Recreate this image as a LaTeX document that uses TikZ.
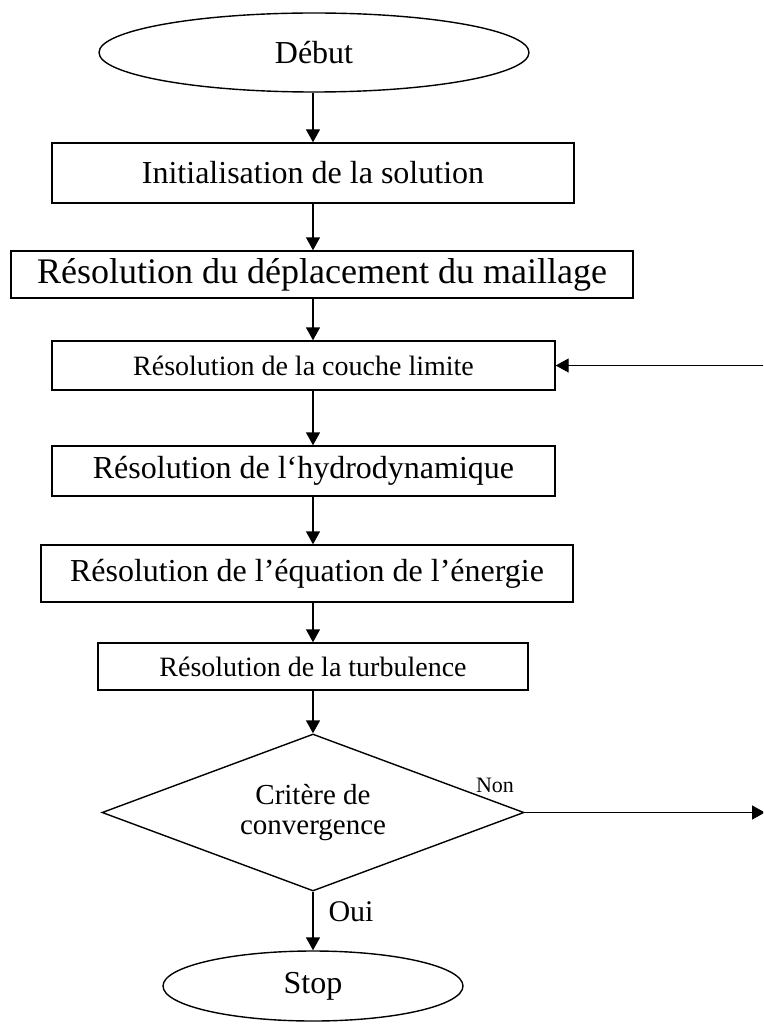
\documentclass[tikz,border=0pt]{standalone}
\usepackage{fontspec}
\setmainfont{Liberation Serif}
\usetikzlibrary{shapes.geometric,arrows.meta}
\begin{document}
\begin{tikzpicture}[x=1pt,y=-1pt,
  line/.style={line width=1.4pt},
  arr/.style={line width=1.4pt,-{Triangle[length=13pt,width=14pt]}},
  procbox/.style={draw,line width=1.4pt,rectangle,inner sep=0pt,font=\fontsize{32}{36}\selectfont},
  term/.style={draw,line width=1.4pt,ellipse,inner sep=0pt,font=\fontsize{32}{36}\selectfont},
  decision/.style={draw,line width=1.4pt,diamond,aspect=2.69,inner sep=0pt,align=center,font=\fontsize{29}{30}\selectfont},
  lbl/.style={inner sep=0pt}
]
\useasboundingbox (0,0) rectangle (763,1032);
\clip (0,0) rectangle (763,1032);
\fill[white] (0,0) rectangle (763,1032);

\node[term,minimum width=430pt,minimum height=79pt] (deb) at (314,52.5) {Début};
\node[procbox,minimum width=522pt,minimum height=60pt] (b1) at (313,173) {Initialisation de la solution};
\node[procbox,minimum width=622pt,minimum height=47pt,font=\fontsize{36}{40}\selectfont] (b2) at (322,274.5) {Résolution du déplacement du maillage};
\node[procbox,minimum width=503pt,minimum height=49pt,font=\fontsize{28}{32}\selectfont] (b3) at (303.5,365.5) {Résolution de la couche limite};
\node[procbox,minimum width=503pt,minimum height=50pt] (b4) at (303.5,471) {Résolution de l‘hydrodynamique};
\node[procbox,minimum width=532pt,minimum height=57pt] (b5) at (307,573.5) {Résolution de l’équation de l’énergie};
\node[procbox,minimum width=430pt,minimum height=47pt,font=\fontsize{28}{32}\selectfont] (b6) at (313,666.5) {Résolution de la turbulence};
\node[decision,minimum width=422pt,minimum height=157pt] (dec) at (313,812.5) {Critère de\\convergence};
\node[term,minimum width=300pt,minimum height=70pt] (stop) at (313,986) {Stop};

\node[lbl,font=\fontsize{22}{24}\selectfont] (non) at (495,785) {Non};
\node[lbl,font=\fontsize{30}{32}\selectfont] (oui) at (351,912) {Oui};

\draw[arr] (deb.south -| dec.north) -- (b1.north -| dec.north);
\draw[arr] (b1.south -| dec.north) -- (b2.north -| dec.north);
\draw[arr] (b2.south -| dec.north) -- (b3.north -| dec.north);
\draw[arr] (b3.south -| dec.north) -- (b4.north -| dec.north);
\draw[arr] (b4.south -| dec.north) -- (b5.north -| dec.north);
\draw[arr] (b5.south -| dec.north) -- (b6.north -| dec.north);
\draw[arr] (b6.south -| dec.north) -- (dec.north);
\draw[arr] (dec.south) -- (stop.north);

\coordinate (ra) at (765,812.5);
\coordinate (rb) at (771,812.5);
\coordinate (rc) at (771,575);
\coordinate (rd) at (771,365.5);
\draw[arr] (dec.east) -- (ra);
\draw[arr] (rb) -- (rc);
\draw[line] (rc) -- (rd);
\draw[arr] (rd) -- (b3.east);
\end{tikzpicture}
\end{document}
